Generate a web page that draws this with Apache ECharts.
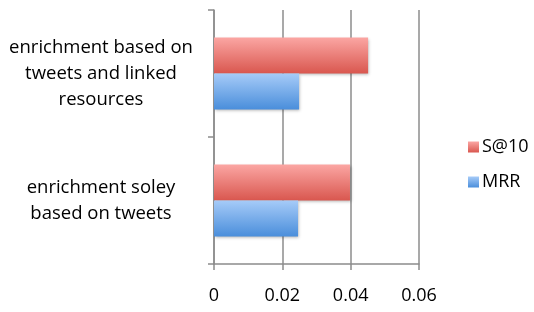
<!DOCTYPE html>
<html>
<head>
<meta charset="utf-8">
<script src="https://cdn.jsdelivr.net/npm/echarts@6/dist/echarts.min.js"></script>
<style>
  html, body { margin: 0; padding: 0; background: #fff; }
  #chart { width: 534px; height: 312px; }
</style>
</head>
<body>
<div id="chart"></div>
<script>
const categories = [
  'enrichment based on\ntweets and linked\nresources',
  'enrichment soley\nbased on tweets'
]
const seriesNames = ['S@10', 'MRR']
const s10Values = [0.0451, 0.0398]
const mrrValues = [0.0249, 0.0246]
const xTicks = { min: 0, max: 0.06, interval: 0.02 }

const axisGray = '#8c8c8c'
const font = 'Open Sans'

const grad = (top, bottom) => new echarts.graphic.LinearGradient(0, 0, 0, 1, [
  { offset: 0, color: top },
  { offset: 1, color: bottom }
])

const myChart = echarts.init(document.getElementById('chart'))
myChart.setOption({
  animation: false,
  grid: { left: 214, right: 115, top: 10, bottom: 48 },
  legend: {
    orient: 'vertical',
    left: 463,
    top: 133,
    itemWidth: 11,
    itemHeight: 11,
    itemGap: 17,
    icon: 'rect',
    textStyle: { fontFamily: font, fontSize: 18, color: '#000', padding: [0, 0, 0, -2] },
    data: seriesNames
  },
  xAxis: {
    type: 'value',
    min: xTicks.min,
    max: xTicks.max,
    interval: xTicks.interval,
    axisLine: { show: true, lineStyle: { color: axisGray, width: 1.5 } },
    axisTick: { show: true, length: 6, lineStyle: { color: axisGray, width: 1.5 } },
    splitLine: { show: true, lineStyle: { color: axisGray, width: 1.5 } },
    axisLabel: {
      margin: 23,
      fontFamily: font,
      fontSize: 18,
      color: '#000',
      formatter: v => (v === 0 ? '0' : v.toFixed(2))
    }
  },
  yAxis: {
    type: 'category',
    inverse: true,
    data: categories,
    axisLine: { show: true, lineStyle: { color: axisGray, width: 1.5 } },
    axisTick: { show: true, length: 6, lineStyle: { color: axisGray, width: 1.5 } },
    axisLabel: {
      margin: 113,
      align: 'center',
      fontFamily: font,
      fontSize: 18.5,
      lineHeight: 26,
      padding: [4, 0, 0, 0],
      color: '#000'
    }
  },
  series: [
    {
      name: seriesNames[0],
      type: 'bar',
      barWidth: 36,
      barGap: '0%',
      data: s10Values,
      itemStyle: {
        color: grad('#fba6a3', '#d9574f'),
        shadowBlur: 3,
        shadowColor: 'rgba(0,0,0,0.3)',
        shadowOffsetX: 1,
        shadowOffsetY: 1
      }
    },
    {
      name: seriesNames[1],
      type: 'bar',
      barWidth: 36,
      barGap: '0%',
      data: mrrValues,
      itemStyle: {
        color: grad('#a6cbf8', '#4a8edb'),
        shadowBlur: 3,
        shadowColor: 'rgba(0,0,0,0.3)',
        shadowOffsetX: 1,
        shadowOffsetY: 1
      }
    }
  ]
})
</script>
</body>
</html>
